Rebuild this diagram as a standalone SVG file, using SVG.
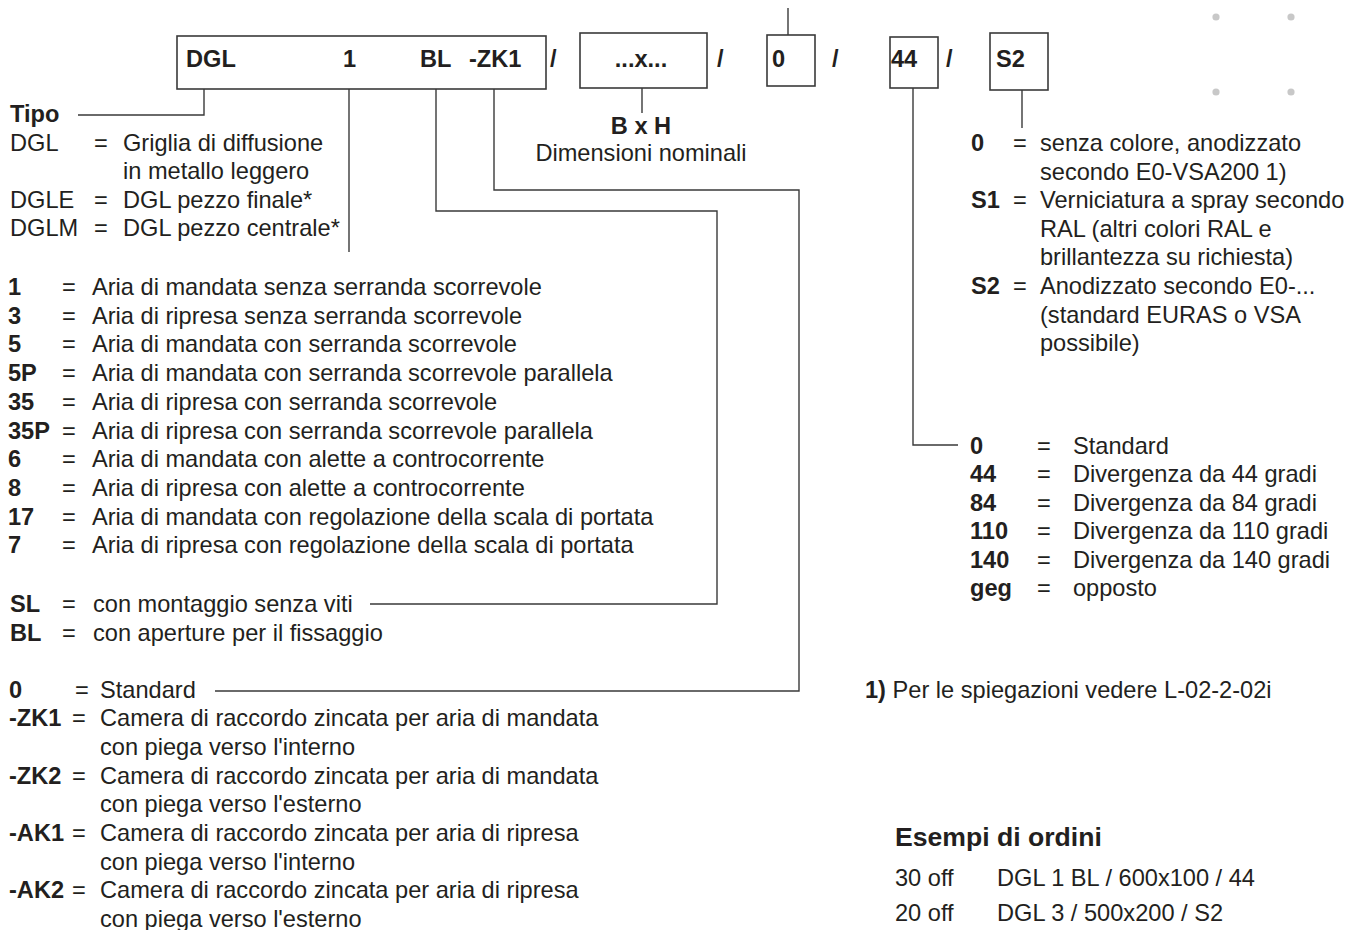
<svg xmlns="http://www.w3.org/2000/svg" width="1347" height="930" viewBox="0 0 1347 930">
<style>
text{font-family:"Liberation Sans",Arial,Helvetica,sans-serif;font-size:23.6px;fill:#231f20}
.b{font-weight:bold}
.m{text-anchor:middle}
.box{fill:#fff;stroke:#3a3a3a;stroke-width:1.6}
.c{fill:none;stroke:#3a3a3a;stroke-width:1.4}
.dot{fill:#c8c8c8}
</style>
<rect width="1347" height="930" fill="#fff"/>
<g id="dots">
<circle class="dot" cx="1216" cy="17" r="3.6"/>
<circle class="dot" cx="1291" cy="17" r="3.6"/>
<circle class="dot" cx="1216" cy="92" r="3.6"/>
<circle class="dot" cx="1291" cy="92" r="3.6"/>
</g>
<g id="connectors">
<polyline class="c" points="78,115 204,115 204,89"/>
<line class="c" x1="349" y1="89" x2="349" y2="252"/>
<polyline class="c" points="436,89 436,211 717,211 717,604 370,604"/>
<polyline class="c" points="494,89 494,190 799,190 799,691 215,691"/>
<line class="c" x1="642" y1="88" x2="642" y2="113"/>
<line class="c" x1="788" y1="8" x2="788" y2="35"/>
<polyline class="c" points="913,88 913,445 958,445"/>
<line class="c" x1="1022" y1="90" x2="1022" y2="128"/>
</g>
<g id="box-main">
<rect class="box" x="177" y="36" width="369" height="53"/>
<text class="b" x="186" y="66.5">DGL</text>
<text class="b" x="343" y="66.5">1</text>
<text class="b" x="420" y="66.5">BL</text>
<text class="b" x="469" y="66.5">-ZK1</text>
</g>
<text class="b" x="550" y="66.5">/</text>
<g id="box-size">
<rect class="box" x="580" y="33" width="127" height="55"/>
<text class="b m" x="641" y="66.5">...x...</text>
</g>
<text class="b" x="717" y="66.5">/</text>
<g id="box-0">
<rect class="box" x="767" y="35" width="48" height="51"/>
<text class="b" x="772" y="66.5">0</text>
</g>
<text class="b" x="832" y="66.5">/</text>
<g id="box-44">
<rect class="box" x="890" y="37" width="48" height="51"/>
<text class="b" x="891" y="66.5">44</text>
</g>
<text class="b" x="946" y="66.5">/</text>
<g id="box-s2">
<rect class="box" x="990" y="33" width="58" height="57"/>
<text class="b" x="996" y="66.5">S2</text>
</g>
<g id="dim-label">
<text class="b m" x="641" y="133.5">B x H</text>
<text class="m" x="641" y="161">Dimensioni nominali</text>
</g>
<g id="tipo">
<text class="b" x="10" y="122">Tipo</text>
<text x="10" y="150.5">DGL</text><text x="94" y="150.5">=</text><text x="123" y="150.5">Griglia di diffusione</text>
<text x="123" y="179">in metallo leggero</text>
<text x="10" y="207.5">DGLE</text><text x="94" y="207.5">=</text><text x="123" y="207.5">DGL pezzo finale*</text>
<text x="10" y="236">DGLM</text><text x="94" y="236">=</text><text x="123" y="236">DGL pezzo centrale*</text>
</g>
<g id="execution">
<text class="b" x="8" y="295">1</text><text x="62" y="295">=</text><text x="92" y="295">Aria di mandata senza serranda scorrevole</text>
<text class="b" x="8" y="323.7">3</text><text x="62" y="323.7">=</text><text x="92" y="323.7">Aria di ripresa senza serranda scorrevole</text>
<text class="b" x="8" y="352.4">5</text><text x="62" y="352.4">=</text><text x="92" y="352.4">Aria di mandata con serranda scorrevole</text>
<text class="b" x="8" y="381.1">5P</text><text x="62" y="381.1">=</text><text x="92" y="381.1">Aria di mandata con serranda scorrevole parallela</text>
<text class="b" x="8" y="409.8">35</text><text x="62" y="409.8">=</text><text x="92" y="409.8">Aria di ripresa con serranda scorrevole</text>
<text class="b" x="8" y="438.5">35P</text><text x="62" y="438.5">=</text><text x="92" y="438.5">Aria di ripresa con serranda scorrevole parallela</text>
<text class="b" x="8" y="467.2">6</text><text x="62" y="467.2">=</text><text x="92" y="467.2">Aria di mandata con alette a controcorrente</text>
<text class="b" x="8" y="495.9">8</text><text x="62" y="495.9">=</text><text x="92" y="495.9">Aria di ripresa con alette a controcorrente</text>
<text class="b" x="8" y="524.6">17</text><text x="62" y="524.6">=</text><text x="92" y="524.6">Aria di mandata con regolazione della scala di portata</text>
<text class="b" x="8" y="553.3">7</text><text x="62" y="553.3">=</text><text x="92" y="553.3">Aria di ripresa con regolazione della scala di portata</text>
</g>
<g id="fixing">
<text class="b" x="10" y="611.5">SL</text><text x="62" y="611.5">=</text><text x="93" y="611.5">con montaggio senza viti</text>
<text class="b" x="10" y="640.5">BL</text><text x="62" y="640.5">=</text><text x="93" y="640.5">con aperture per il fissaggio</text>
</g>
<g id="plenum">
<text class="b" x="9" y="697.5">0</text><text x="75" y="697.5">=</text><text x="100" y="697.5">Standard</text>
<text class="b" x="9" y="726">-ZK1</text><text x="72" y="726">=</text><text x="100" y="726">Camera di raccordo zincata per aria di mandata</text>
<text x="100" y="754.5">con piega verso l'interno</text>
<text class="b" x="9" y="783.5">-ZK2</text><text x="72" y="783.5">=</text><text x="100" y="783.5">Camera di raccordo zincata per aria di mandata</text>
<text x="100" y="812">con piega verso l'esterno</text>
<text class="b" x="9" y="841">-AK1</text><text x="72" y="841">=</text><text x="100" y="841">Camera di raccordo zincata per aria di ripresa</text>
<text x="100" y="869.5">con piega verso l'interno</text>
<text class="b" x="9" y="898">-AK2</text><text x="72" y="898">=</text><text x="100" y="898">Camera di raccordo zincata per aria di ripresa</text>
<text x="100" y="927">con piega verso l'esterno</text>
</g>
<g id="surface">
<text class="b" x="971" y="151">0</text><text x="1013" y="151">=</text><text x="1040" y="151">senza colore, anodizzato</text>
<text x="1040" y="179.6">secondo E0-VSA200 1)</text>
<text class="b" x="971" y="208.2">S1</text><text x="1013" y="208.2">=</text><text x="1040" y="208.2">Verniciatura a spray secondo</text>
<text x="1040" y="236.8">RAL (altri colori RAL e</text>
<text x="1040" y="265.4">brillantezza su richiesta)</text>
<text class="b" x="971" y="294">S2</text><text x="1013" y="294">=</text><text x="1040" y="294">Anodizzato secondo E0-...</text>
<text x="1040" y="322.6">(standard EURAS o VSA</text>
<text x="1040" y="351.2">possibile)</text>
</g>
<g id="divergence">
<text class="b" x="970" y="453.5">0</text><text x="1037" y="453.5">=</text><text x="1073" y="453.5">Standard</text>
<text class="b" x="970" y="482">44</text><text x="1037" y="482">=</text><text x="1073" y="482">Divergenza da 44 gradi</text>
<text class="b" x="970" y="510.5">84</text><text x="1037" y="510.5">=</text><text x="1073" y="510.5">Divergenza da 84 gradi</text>
<text class="b" x="970" y="539">110</text><text x="1037" y="539">=</text><text x="1073" y="539">Divergenza da 110 gradi</text>
<text class="b" x="970" y="567.5">140</text><text x="1037" y="567.5">=</text><text x="1073" y="567.5">Divergenza da 140 gradi</text>
<text class="b" x="970" y="596">geg</text><text x="1037" y="596">=</text><text x="1073" y="596">opposto</text>
</g>
<g id="footnote">
<text x="865" y="697.5"><tspan class="b">1)</tspan> Per le spiegazioni vedere L-02-2-02i</text>
</g>
<g id="examples">
<text class="b" x="895" y="846" style="font-size:26.6px">Esempi di ordini</text>
<text x="895" y="886">30 off</text><text x="997" y="886">DGL 1 BL / 600x100 / 44</text>
<text x="895" y="921">20 off</text><text x="997" y="921">DGL 3 / 500x200 / S2</text>
</g>
</svg>
